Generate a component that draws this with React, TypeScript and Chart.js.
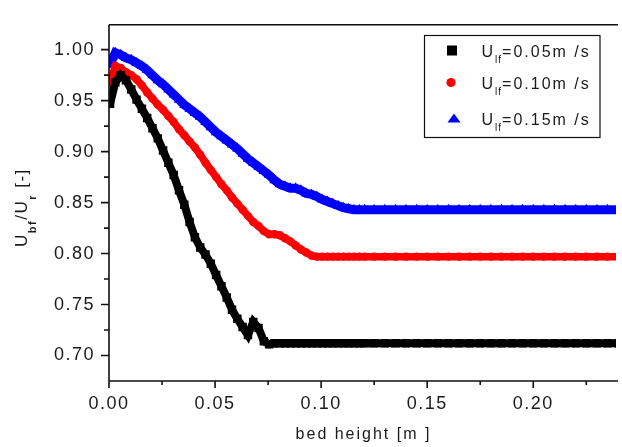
import React, { useEffect, useRef } from 'react';
import { Chart, registerables } from 'chart.js';

Chart.register(...registerables);

// bed height [m]
const bedHeight = [
  0.0005, 0.003, 0.0055, 0.008, 0.0105, 0.013, 0.0155, 0.018, 0.0205, 0.023,
  0.0255, 0.028, 0.0305, 0.033, 0.0355, 0.038, 0.0405, 0.043, 0.0455, 0.048,
  0.0505, 0.053, 0.0555, 0.058, 0.0605, 0.063, 0.0655, 0.068, 0.0705, 0.073,
  0.0755, 0.078, 0.0805, 0.083, 0.0855, 0.088, 0.0905, 0.093, 0.0955, 0.098,
  0.1005, 0.103, 0.1055, 0.108, 0.1105, 0.113, 0.1155, 0.118, 0.1205, 0.125,
  0.13, 0.135, 0.14, 0.145, 0.15, 0.155, 0.16, 0.165, 0.17, 0.175,
  0.18, 0.185, 0.19, 0.195, 0.2, 0.205, 0.21, 0.215, 0.22, 0.225,
  0.23, 0.235, 0.24,
];

// U_lf = 0.05 m/s
const ratio005 = [
  0.947, 0.968, 0.975, 0.970, 0.961, 0.951, 0.942, 0.933, 0.923, 0.913,
  0.901, 0.889, 0.877, 0.862, 0.848, 0.831, 0.816, 0.806, 0.799, 0.790,
  0.779, 0.768, 0.757, 0.745, 0.736, 0.728, 0.720, 0.733, 0.727, 0.714,
  0.711, 0.712, 0.712, 0.712, 0.712, 0.712, 0.712, 0.712, 0.712, 0.712,
  0.712, 0.712, 0.712, 0.712, 0.712, 0.712, 0.712, 0.712, 0.712, 0.712,
  0.712, 0.712, 0.712, 0.712, 0.712, 0.712, 0.712, 0.712, 0.712, 0.712,
  0.712, 0.712, 0.712, 0.712, 0.712, 0.712, 0.712, 0.712, 0.712, 0.712,
  0.712, 0.712, 0.712,
];

// U_lf = 0.10 m/s
const ratio010 = [
  0.968, 0.984, 0.982, 0.978, 0.975, 0.971, 0.965, 0.958, 0.952, 0.946,
  0.941, 0.935, 0.929, 0.922, 0.916, 0.910, 0.904, 0.897, 0.889, 0.882,
  0.875, 0.868, 0.862, 0.855, 0.849, 0.843, 0.837, 0.831, 0.827, 0.822,
  0.819, 0.819, 0.818, 0.815, 0.812, 0.808, 0.804, 0.801, 0.798, 0.797,
  0.797, 0.797, 0.797, 0.797, 0.797, 0.797, 0.797, 0.797, 0.797, 0.797,
  0.797, 0.797, 0.797, 0.797, 0.797, 0.797, 0.797, 0.797, 0.797, 0.797,
  0.797, 0.797, 0.797, 0.797, 0.797, 0.797, 0.797, 0.797, 0.797, 0.797,
  0.797, 0.797, 0.797,
];

// U_lf = 0.15 m/s
const ratio015 = [
  0.985, 0.997, 0.995, 0.992, 0.990, 0.987, 0.984, 0.980, 0.975, 0.970,
  0.966, 0.961, 0.956, 0.951, 0.946, 0.942, 0.938, 0.934, 0.929, 0.924,
  0.919, 0.915, 0.911, 0.907, 0.903, 0.898, 0.893, 0.889, 0.885, 0.881,
  0.877, 0.872, 0.868, 0.866, 0.864, 0.864, 0.862, 0.859, 0.858, 0.856,
  0.853, 0.851, 0.849, 0.847, 0.845, 0.844, 0.843, 0.843, 0.843, 0.843,
  0.843, 0.843, 0.843, 0.843, 0.843, 0.843, 0.843, 0.843, 0.843, 0.843,
  0.843, 0.843, 0.843, 0.843, 0.843, 0.843, 0.843, 0.843, 0.843, 0.843,
  0.843, 0.843, 0.843,
];

const legendValues = ['=0.05m /s', '=0.10m /s', '=0.15m /s'];
const seriesColors = ['#000000', '#ff0000', '#0000ff'];

const xMajorTicks = [0, 0.05, 0.1, 0.15, 0.2];
const xMinorTicks = [0.025, 0.075, 0.125, 0.175, 0.225];
const yMajorTicks = [0.7, 0.75, 0.8, 0.85, 0.9, 0.95, 1.0];
const yMinorTicks = [0.725, 0.775, 0.825, 0.875, 0.925, 0.975];

const X_MIN = 0;
const X_MAX = 0.239;
const Y_MIN = 0.675;
const Y_MAX = 1.0244;

const FONT = "'Liberation Sans', Arial, sans-serif";

function pts(ys: number[]) {
  return bedHeight.map((x, i) => ({ x, y: ys[i] }));
}

const decor = {
  id: 'decor',
  beforeDraw(chart: any) {
    (chart.ctx as any).letterSpacing = '1.5px';
  },
  afterDraw(chart: any) {
    const ctx = chart.ctx as CanvasRenderingContext2D & { letterSpacing: string };
    const { left, right, top, bottom } = chart.chartArea;
    const xs = chart.scales.x;
    const ys = chart.scales.y;
    ctx.save();
    ctx.letterSpacing = '0px';
    ctx.strokeStyle = '#111';
    ctx.lineWidth = 1.6;
    ctx.beginPath();
    ctx.moveTo(left, top);
    ctx.lineTo(right + 2, top);
    ctx.moveTo(left, top);
    ctx.lineTo(left, bottom);
    ctx.moveTo(left, bottom);
    ctx.lineTo(right + 2, bottom);
    for (const v of xMajorTicks) {
      const p = xs.getPixelForValue(v);
      ctx.moveTo(p, bottom);
      ctx.lineTo(p, bottom + 7);
    }
    for (const v of xMinorTicks) {
      const p = xs.getPixelForValue(v);
      ctx.moveTo(p, bottom);
      ctx.lineTo(p, bottom + 4);
    }
    for (const v of yMajorTicks) {
      const p = ys.getPixelForValue(v);
      ctx.moveTo(left, p);
      ctx.lineTo(left - 8, p);
    }
    for (const v of yMinorTicks) {
      const p = ys.getPixelForValue(v);
      ctx.moveTo(left, p);
      ctx.lineTo(left - 5, p);
    }
    ctx.stroke();

    ctx.fillStyle = '#1a1a1a';
    // x title
    ctx.letterSpacing = '2px';
    ctx.font = `16px ${FONT}`;
    ctx.textAlign = 'center';
    ctx.textBaseline = 'alphabetic';
    ctx.fillText('bed height [m ]', (left + right) / 2 + 1, 439);

    // y title (rotated, with subscripts)
    ctx.save();
    ctx.translate(26.5, 247);
    ctx.rotate(-Math.PI / 2);
    ctx.textAlign = 'left';
    ctx.letterSpacing = '1.5px';
    let cx = 0;
    const part = (t: string, font: string, dy: number) => {
      ctx.font = font;
      ctx.fillText(t, cx, dy);
      cx += ctx.measureText(t).width;
    };
    part('U', `17px ${FONT}`, 0);
    part('bf', `bold 11px ${FONT}`, 9);
    part('/U', `17px ${FONT}`, 0);
    part('r', `bold 11px ${FONT}`, 9);
    part(' [-]', `17px ${FONT}`, 0);
    ctx.restore();

    // legend
    ctx.letterSpacing = '0px';
    ctx.lineWidth = 1.2;
    ctx.strokeStyle = '#111';
    ctx.strokeRect(424.5, 35.5, 175.5, 102);
    const baselines = [57, 89, 125];
    baselines.forEach((by, i) => {
      const my = by - 6.5;
      ctx.fillStyle = seriesColors[i];
      if (i === 0) {
        ctx.fillRect(447, my - 5, 10, 10);
      } else if (i === 1) {
        ctx.beginPath();
        ctx.arc(451, my, 4.6, 0, Math.PI * 2);
        ctx.fill();
      } else {
        ctx.beginPath();
        ctx.moveTo(454, my - 5);
        ctx.lineTo(460.5, my + 4);
        ctx.lineTo(447.5, my + 4);
        ctx.closePath();
        ctx.fill();
      }
      ctx.fillStyle = '#1a1a1a';
      ctx.textAlign = 'left';
      ctx.letterSpacing = '2px';
      let lx = 481.5;
      ctx.font = `16px ${FONT}`;
      ctx.fillText('U', lx, by);
      lx += ctx.measureText('U').width;
      ctx.font = `10px ${FONT}`;
      ctx.letterSpacing = '1px';
      ctx.fillText('lf', lx, by + 6);
      lx += ctx.measureText('lf').width;
      ctx.letterSpacing = '2px';
      ctx.font = `16px ${FONT}`;
      ctx.fillText(legendValues[i], lx, by);
    });
    ctx.restore();
  },
};

export default function App() {
  const ref = useRef<HTMLCanvasElement | null>(null);

  useEffect(() => {
    if (!ref.current) return;
    const chart = new Chart(ref.current, {
      type: 'line',
      data: {
        datasets: [
          {
            label: 'U_lf=0.05m/s',
            data: pts(ratio005),
            borderColor: seriesColors[0],
            backgroundColor: seriesColors[0],
            borderWidth: 8,
            pointStyle: 'rect',
            pointRadius: 6,
            pointBorderWidth: 0,
            tension: 0,
          },
          {
            label: 'U_lf=0.10m/s',
            data: pts(ratio010),
            borderColor: seriesColors[1],
            backgroundColor: seriesColors[1],
            borderWidth: 7.5,
            pointStyle: 'circle',
            pointRadius: 4.2,
            pointBorderWidth: 0,
            tension: 0,
          },
          {
            label: 'U_lf=0.15m/s',
            data: pts(ratio015),
            borderColor: seriesColors[2],
            backgroundColor: seriesColors[2],
            borderWidth: 9,
            pointStyle: 'triangle',
            pointRadius: 6,
            pointBorderWidth: 0,
            tension: 0,
          },
        ],
      },
      options: {
        animation: false,
        responsive: false,
        devicePixelRatio: 1,
        layout: { padding: { top: 8, left: 0, right: 0, bottom: 0 } },
        plugins: {
          legend: { display: false },
          tooltip: { enabled: false },
        },
        scales: {
          x: {
            type: 'linear',
            min: X_MIN,
            max: X_MAX,
            grid: { display: false, drawTicks: false },
            border: { display: false },
            afterBuildTicks: (s: any) => {
              s.ticks = xMajorTicks.map((v) => ({ value: v }));
            },
            afterFit: (s: any) => {
              s.height = 66;
            },
            ticks: {
              padding: 12,
              color: '#1a1a1a',
              font: { family: FONT, size: 18 },
              maxRotation: 0,
              callback: (v: any) => Number(v).toFixed(2),
            },
          },
          y: {
            type: 'linear',
            min: Y_MIN,
            max: Y_MAX,
            grid: { display: false, drawTicks: false },
            border: { display: false },
            afterBuildTicks: (s: any) => {
              s.ticks = yMajorTicks.map((v) => ({ value: v }));
            },
            afterFit: (s: any) => {
              s.width = 109;
            },
            ticks: {
              padding: 14,
              color: '#1a1a1a',
              font: { family: FONT, size: 18 },
              callback: (v: any) => Number(v).toFixed(2),
            },
          },
        },
      },
      plugins: [decor],
    });
    return () => chart.destroy();
  }, []);

  return (
    <div
      style={{
        position: 'fixed',
        left: 0,
        top: 0,
        width: 622,
        height: 447,
        overflow: 'hidden',
        background: '#fff',
      }}
    >
      <canvas ref={ref} width={622} height={447} style={{ width: 622, height: 447, display: 'block' }} />
    </div>
  );
}
